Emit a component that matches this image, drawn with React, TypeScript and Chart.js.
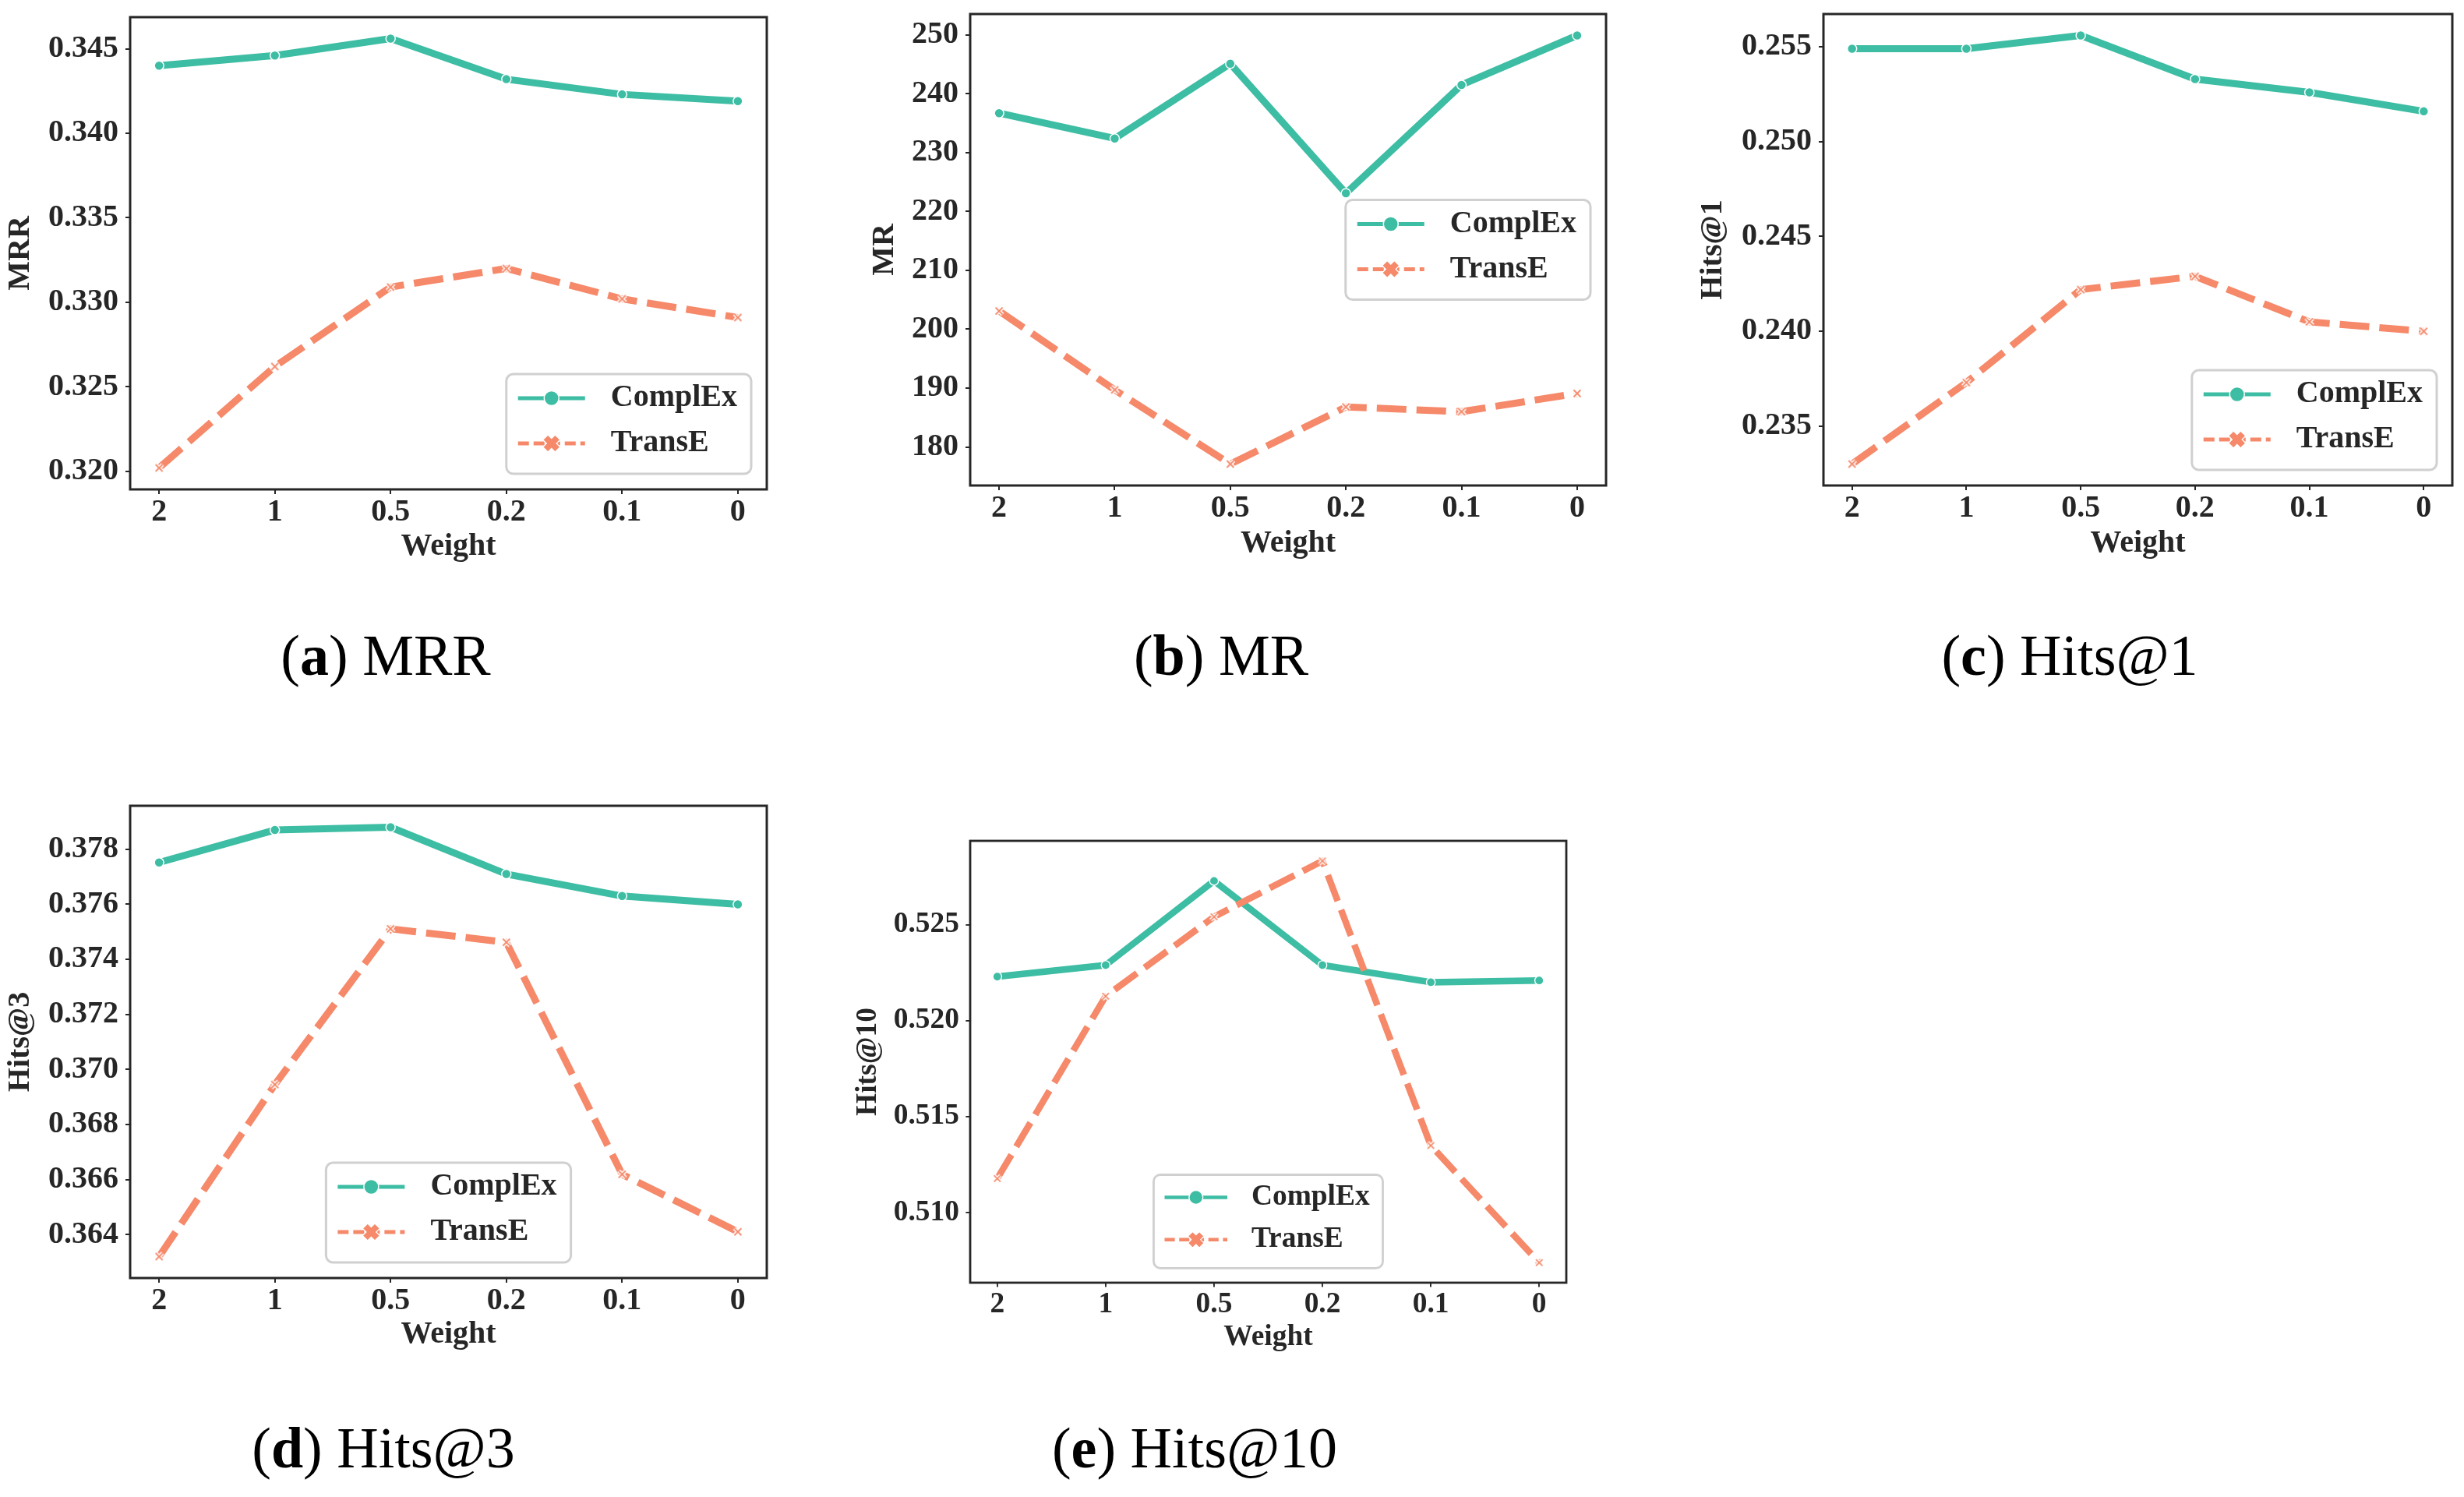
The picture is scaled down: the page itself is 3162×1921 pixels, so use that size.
import React, { useEffect, useRef } from "react";
import { Chart, registerables } from "chart.js";

Chart.register(...registerables);

// ---------------- data ----------------
const weights = ["2", "1", "0.5", "0.2", "0.1", "0"];
const seriesNames = ["ComplEx", "TransE"];

const mrrComplEx = [0.344, 0.3446, 0.3456, 0.3432, 0.3423, 0.3419];
const mrrTransE = [0.3202, 0.3262, 0.3309, 0.332, 0.3302, 0.3291];
const mrrTicks = [0.32, 0.325, 0.33, 0.335, 0.34, 0.345];

const mrComplEx = [236.7, 232.4, 245.1, 223.1, 241.5, 249.9];
const mrTransE = [203.1, 189.7, 177.1, 186.8, 186.0, 189.1];
const mrTicks = [180, 190, 200, 210, 220, 230, 240, 250];

const hits1ComplEx = [0.2549, 0.2549, 0.2556, 0.2533, 0.2526, 0.2516];
const hits1TransE = [0.233, 0.2373, 0.2422, 0.2429, 0.2405, 0.24];
const hits1Ticks = [0.235, 0.24, 0.245, 0.25, 0.255];

const hits3ComplEx = [0.37752, 0.3787, 0.3788, 0.3771, 0.3763, 0.376];
const hits3TransE = [0.3632, 0.36945, 0.37511, 0.37462, 0.36619, 0.3641];
const hits3Ticks = [0.364, 0.366, 0.368, 0.37, 0.372, 0.374, 0.376, 0.378];

const hits10ComplEx = [0.52229, 0.52289, 0.52728, 0.52289, 0.522, 0.52209];
const hits10TransE = [0.51177, 0.52127, 0.52541, 0.52832, 0.51349, 0.50739];
const hits10Ticks = [0.51, 0.515, 0.52, 0.525];

const captionLetters = ["a", "b", "c", "d", "e"];
const captionNames = ["MRR", "MR", "Hits@1", "Hits@3", "Hits@10"];
const yTitles = ["MRR", "MR", "Hits@1", "Hits@3", "Hits@10"];

// ---------------- style ----------------
const TEAL = "#3dbda3";
const ORANGE = "#f5896a";
const DARK = "#262626";
const FONT = '"Liberation Serif", "Times New Roman", serif';

type PanelCfg = {
  idx: number;
  a: number[];
  b: number[];
  ticks: number[];
  dec: number;
  canvas: { x: number; y: number; w: number; h: number };
  box: { l: number; t: number; r: number; b: number };
  yTitleX: number;
  xTitleY: number;
  k: number;
  loc: string;
  capX: number;
  capTop: number;
};

const panels: PanelCfg[] = [
  {
    idx: 0, a: mrrComplEx, b: mrrTransE, ticks: mrrTicks, dec: 3,
    canvas: { x: 0, y: 0, w: 1010, h: 730 },
    box: { l: 167, t: 22, r: 984, b: 628 },
    yTitleX: 27, xTitleY: 702, k: 1, loc: "lower right", capX: 495, capTop: 804,
  },
  {
    idx: 1, a: mrComplEx, b: mrTransE, ticks: mrTicks, dec: 0,
    canvas: { x: 1050, y: 0, w: 1030, h: 730 },
    box: { l: 1245, t: 18, r: 2061, b: 623 },
    yTitleX: 1136, xTitleY: 698, k: 1, loc: "center right", capX: 1567, capTop: 804,
  },
  {
    idx: 2, a: hits1ComplEx, b: hits1TransE, ticks: hits1Ticks, dec: 3,
    canvas: { x: 2150, y: 0, w: 1012, h: 730 },
    box: { l: 2340, t: 18, r: 3156, b: 623 },
    yTitleX: 2199, xTitleY: 698, k: 1, loc: "lower right", capX: 2656, capTop: 804,
  },
  {
    idx: 3, a: hits3ComplEx, b: hits3TransE, ticks: hits3Ticks, dec: 3,
    canvas: { x: 0, y: 1000, w: 1010, h: 740 },
    box: { l: 167, t: 1034, r: 984, b: 1640 },
    yTitleX: 27, xTitleY: 1713, k: 1, loc: "lower center", capX: 492, capTop: 1821,
  },
  {
    idx: 4, a: hits10ComplEx, b: hits10TransE, ticks: hits10Ticks, dec: 3,
    canvas: { x: 1050, y: 1040, w: 1000, h: 720 },
    box: { l: 1245, t: 1079, r: 2010, b: 1646 },
    yTitleX: 1114, xTitleY: 1716, k: 0.936, loc: "lower center", capX: 1533, capTop: 1821,
  },
];

function makeXMarker(k: number) {
  const c = document.createElement("canvas");
  const s = Math.ceil(18 * k);
  c.width = s;
  c.height = s;
  const g = c.getContext("2d")!;
  const m = s / 2;
  const r = 4.5 * k;
  g.beginPath();
  g.moveTo(m - r, m - r);
  g.lineTo(m + r, m + r);
  g.moveTo(m + r, m - r);
  g.lineTo(m - r, m + r);
  g.lineCap = "butt";
  g.strokeStyle = "#ffffff";
  g.lineWidth = 5 * k;
  g.stroke();
  g.strokeStyle = ORANGE;
  g.lineWidth = 1.8 * k;
  g.stroke();
  return c;
}

function roundRectPath(ctx: CanvasRenderingContext2D, x: number, y: number, w: number, h: number, r: number) {
  ctx.beginPath();
  ctx.moveTo(x + r, y);
  ctx.lineTo(x + w - r, y);
  ctx.arcTo(x + w, y, x + w, y + r, r);
  ctx.lineTo(x + w, y + h - r);
  ctx.arcTo(x + w, y + h, x + w - r, y + h, r);
  ctx.lineTo(x + r, y + h);
  ctx.arcTo(x, y + h, x, y + h - r, r);
  ctx.lineTo(x, y + r);
  ctx.arcTo(x, y, x + r, y, r);
  ctx.closePath();
}

function drawFilledX(ctx: CanvasRenderingContext2D, cx: number, cy: number, r: number, t: number) {
  const pts = [
    [-t, -r], [t, -r], [t, -t], [r, -t], [r, t], [t, t],
    [t, r], [-t, r], [-t, t], [-r, t], [-r, -t], [-t, -t],
  ];
  const c = Math.cos(Math.PI / 4);
  const s = Math.sin(Math.PI / 4);
  ctx.beginPath();
  pts.forEach(([px, py], i) => {
    const x = cx + px * c - py * s;
    const y = cy + px * s + py * c;
    if (i === 0) ctx.moveTo(x, y);
    else ctx.lineTo(x, y);
  });
  ctx.closePath();
}

const decorPlugin = {
  id: "panelDecor",
  afterDraw(chart: any, _args: any, opts: any) {
    const cfg: PanelCfg = opts.cfg;
    const k = cfg.k;
    const { ctx, chartArea: a } = chart;
    ctx.save();
    // frame
    ctx.strokeStyle = DARK;
    ctx.lineWidth = 3 * k;
    ctx.setLineDash([]);
    ctx.strokeRect(a.left, a.top, a.right - a.left, a.bottom - a.top);

    // legend
    const fs = 40 * k;
    ctx.font = `bold ${fs}px ${FONT}`;
    const tw = Math.max(...seriesNames.map((n) => ctx.measureText(n).width));
    const w = 134 * k + tw + 18 * k;
    const h = 128 * k;
    const pad = 20 * k;
    let x = a.right - pad - w;
    let y = a.bottom - pad - h;
    if (cfg.loc === "center right") y = (a.top + a.bottom) / 2 - h / 2;
    if (cfg.loc === "lower center") x = (a.left + a.right) / 2 - w / 2;
    roundRectPath(ctx, x, y, w, h, 9 * k);
    ctx.fillStyle = "rgba(255,255,255,0.8)";
    ctx.fill();
    ctx.lineWidth = 3 * k;
    ctx.strokeStyle = "#d0d0d0";
    ctx.stroke();

    const rows = [y + 31 * k, y + 89 * k];
    const x0 = x + 15 * k;
    const x1 = x + 101 * k;
    const xm = (x0 + x1) / 2;

    // ComplEx handle
    ctx.lineWidth = 5 * k;
    ctx.strokeStyle = TEAL;
    ctx.beginPath();
    ctx.moveTo(x0, rows[0]);
    ctx.lineTo(x1, rows[0]);
    ctx.stroke();
    ctx.beginPath();
    ctx.arc(xm, rows[0], 9.5 * k, 0, Math.PI * 2);
    ctx.fillStyle = TEAL;
    ctx.fill();
    ctx.lineWidth = 1.5 * k;
    ctx.strokeStyle = "#ffffff";
    ctx.stroke();

    // TransE handle
    ctx.lineWidth = 5 * k;
    ctx.strokeStyle = ORANGE;
    ctx.setLineDash([14 * k, 6 * k]);
    ctx.beginPath();
    ctx.moveTo(x0, rows[1]);
    ctx.lineTo(x1, rows[1]);
    ctx.stroke();
    ctx.setLineDash([]);
    drawFilledX(ctx, xm, rows[1], 11 * k, 4.5 * k);
    ctx.fillStyle = ORANGE;
    ctx.fill();
    ctx.lineWidth = 1.2 * k;
    ctx.strokeStyle = "#ffffff";
    ctx.stroke();

    ctx.fillStyle = DARK;
    ctx.textAlign = "left";
    ctx.textBaseline = "middle";
    seriesNames.forEach((n, i) => ctx.fillText(n, x + 134 * k, rows[i]));
    ctx.restore();
  },
};

function Panel({ cfg }: { cfg: PanelCfg }) {
  const ref = useRef<HTMLCanvasElement>(null);
  useEffect(() => {
    const k = cfg.k;
    const c = cfg.canvas;
    const b = cfg.box;
    const padTop = b.t - c.y;
    const padRight = c.x + c.w - b.r;
    const yAxisW = b.l - c.x;
    const xAxisH = c.y + c.h - b.b;
    const fs = 40 * k;
    const all = [...cfg.a, ...cfg.b];
    const lo = Math.min(...all);
    const hi = Math.max(...all);
    const span = hi - lo;
    const tickFont = { family: FONT, weight: "bold" as const, size: fs, lineHeight: 1 };
    const xTitlePadBottom = c.y + c.h - cfg.xTitleY - fs / 2;
    const yTitlePadTop = cfg.yTitleX - c.x - fs / 2;
    const xImg = makeXMarker(k);

    const chart = new Chart(ref.current!, {
      type: "line",
      data: {
        datasets: [
          {
            label: seriesNames[0],
            data: cfg.a.map((v, i) => ({ x: i, y: v })),
            borderColor: TEAL,
            backgroundColor: TEAL,
            borderWidth: 9 * k,
            borderJoinStyle: "round",
            borderCapStyle: "round",
            pointStyle: "circle",
            pointRadius: 6 * k,
            pointBackgroundColor: TEAL,
            pointBorderColor: "#ffffff",
            pointBorderWidth: 1.5 * k,
            tension: 0,
            order: 1,
          },
          {
            label: seriesNames[1],
            data: cfg.b.map((v, i) => ({ x: i, y: v })),
            borderColor: ORANGE,
            backgroundColor: ORANGE,
            borderWidth: 9 * k,
            borderDash: [38 * k, 13 * k],
            borderJoinStyle: "round",
            borderCapStyle: "butt",
            pointStyle: xImg as any,
            pointRadius: 6 * k,
            tension: 0,
            order: 0,
          },
        ],
      },
      options: {
        animation: false,
        responsive: false,
        devicePixelRatio: 1,
        layout: { padding: { top: padTop, right: padRight, left: 0, bottom: 0 } },
        plugins: {
          legend: { display: false },
          tooltip: { enabled: false },
          panelDecor: { cfg },
        } as any,
        scales: {
          x: {
            type: "linear",
            position: "bottom",
            min: -0.25,
            max: 5.25,
            afterBuildTicks: (s: any) => {
              s.ticks = weights.map((_, i) => ({ value: i }));
            },
            ticks: {
              callback: (v: any) => weights[Math.round(Number(v))] ?? "",
              font: tickFont,
              color: DARK,
              padding: 4 * k,
              maxRotation: 0,
              autoSkip: false,
            },
            grid: {
              display: true,
              drawOnChartArea: false,
              drawTicks: true,
              tickLength: 6 * k,
              tickWidth: 2 * k,
              tickColor: DARK,
              lineWidth: 2 * k,
              color: DARK,
            },
            border: { display: false },
            title: {
              display: true,
              text: "Weight",
              color: DARK,
              font: { family: FONT, weight: "bold", size: fs, lineHeight: 1 },
              padding: { top: 0, bottom: xTitlePadBottom },
            },
            afterFit: (s: any) => {
              s.height = xAxisH;
              s.paddingLeft = 0;
              s.paddingRight = 0;
              s.paddingTop = 0;
              s.paddingBottom = 0;
            },
          },
          y: {
            type: "linear",
            position: "left",
            min: lo - 0.05 * span,
            max: hi + 0.05 * span,
            afterBuildTicks: (s: any) => {
              s.ticks = cfg.ticks.map((v) => ({ value: v }));
            },
            ticks: {
              callback: (v: any) => Number(v).toFixed(cfg.dec),
              font: tickFont,
              color: DARK,
              padding: 9 * k,
            },
            grid: {
              display: true,
              drawOnChartArea: false,
              drawTicks: true,
              tickLength: 6 * k,
              tickWidth: 2 * k,
              tickColor: DARK,
              lineWidth: 2 * k,
              color: DARK,
            },
            border: { display: false },
            title: {
              display: true,
              text: yTitles[cfg.idx],
              color: DARK,
              font: { family: FONT, weight: "bold", size: fs, lineHeight: 1 },
              padding: { top: yTitlePadTop, bottom: 0 },
            },
            afterFit: (s: any) => {
              s.width = yAxisW;
              s.paddingLeft = 0;
              s.paddingRight = 0;
              s.paddingTop = 0;
              s.paddingBottom = 0;
            },
          },
        },
      } as any,
      plugins: [decorPlugin as any],
    });
    return () => chart.destroy();
  }, [cfg]);

  return (
    <canvas
      ref={ref}
      width={cfg.canvas.w}
      height={cfg.canvas.h}
      style={{
        position: "absolute",
        left: cfg.canvas.x,
        top: cfg.canvas.y,
        width: cfg.canvas.w,
        height: cfg.canvas.h,
      }}
    />
  );
}

export default function App() {
  return (
    <div
      style={{
        position: "absolute",
        left: 0,
        top: 0,
        width: 3162,
        height: 1921,
        background: "#ffffff",
        overflow: "hidden",
      }}
    >
      {panels.map((p) => (
        <Panel key={p.idx} cfg={p} />
      ))}
      {panels.map((p) => (
        <div
          key={"cap" + p.idx}
          style={{
            position: "absolute",
            left: p.capX - 400,
            top: p.capTop,
            width: 800,
            textAlign: "center",
            fontFamily: FONT,
            fontSize: 74,
            lineHeight: "74px",
            color: "#000",
            whiteSpace: "nowrap",
          }}
        >
          (<b>{captionLetters[p.idx]}</b>) {captionNames[p.idx]}
        </div>
      ))}
    </div>
  );
}
